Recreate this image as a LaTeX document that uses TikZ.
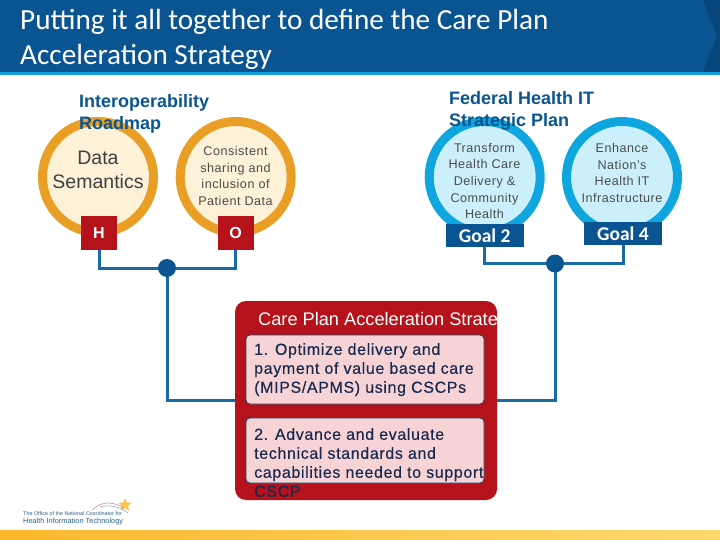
\documentclass[tikz,border=0pt]{standalone}
\usepackage{fontspec}
\usepackage{xcolor}
\setmainfont{Liberation Sans}
\newfontfamily\titlefont{Carlito}
\newfontfamily\spacedfont[LetterSpace=4]{Liberation Sans}
\newfontfamily\goalfont[LetterSpace=4,FakeBold=0.3]{Liberation Sans}
\usetikzlibrary{positioning,shapes.geometric,backgrounds}

\definecolor{hdrblue}{HTML}{0A5591}
\definecolor{hdrdark}{HTML}{07457A}
\definecolor{hdrcyan}{HTML}{14A0DC}
\definecolor{ringamber}{HTML}{E99F25}
\definecolor{fillcream}{HTML}{FDF1D8}
\definecolor{ringcyan}{HTML}{0FA6E0}
\definecolor{fillcyan}{HTML}{CBF0FC}
\definecolor{stratred}{HTML}{B5121B}
\definecolor{stratpink}{HTML}{F8D3D6}
\definecolor{linkblue}{HTML}{1A6BA5}
\definecolor{textnavy}{HTML}{17294F}
\definecolor{footleft}{HTML}{FBB72C}
\definecolor{footright}{HTML}{FFD96F}

\begin{document}
\begin{tikzpicture}[x=1pt, y=-1pt,
    ring/.style={circle, draw=#1, line width=9pt, minimum size=111pt, inner sep=0pt, align=center},
    ring/.default=ringamber,
    redtag/.style={fill=stratred, text=white, minimum width=36pt, minimum height=34pt, inner sep=0pt, font=\fontsize{16}{18}\selectfont\bfseries},
    goaltag/.style={fill=hdrblue, text=white, minimum width=78pt, minimum height=23pt, inner sep=0pt, font=\titlefont\fontsize{19.5}{22}\selectfont\bfseries},
    head/.style={anchor=north west, inner sep=0pt, align=left, text=hdrblue, font=\fontsize{18}{22}\selectfont\bfseries},
    circtext/.style={align=center, inner sep=0pt, text=black!70, font=\spacedfont\fontsize{12.6}{16.7}\selectfont},
    goalbox/.style={draw=linkblue!70!black, fill=stratpink, line width=0.8pt, rounded corners=4pt, minimum width=238pt, inner sep=0pt},
    goaltext/.style={anchor=north west, inner sep=0pt, align=left, text=textnavy, font=\goalfont\fontsize{16}{19}\selectfont},
    link/.style={draw=linkblue, line width=3pt},
    dot/.style={circle, fill=hdrblue, minimum size=18pt, inner sep=0pt},
]
\useasboundingbox (0,0) rectangle (720,540);

% --- Header and footer ---
\fill[hdrblue] (0,0) rectangle (720,72);
\fill[hdrdark] (703,0) -- (717,36) -- (703,72) -- (720,72) -- (720,0) -- cycle;
\fill[hdrcyan] (0,72) rectangle (720,75);
\shade[left color=footleft, right color=footright] (0,530) rectangle (720,540);
\node[anchor=north west, inner sep=0pt, text=white, font=\titlefont\fontsize{29.2}{35}\selectfont, align=left] (title) at (20,9) {Putting it all together to define the Care Plan\\Acceleration Strategy};

% --- Roadmap circles ---
\node[ring=ringamber, fill=fillcream] (semantics) at (98,177) {};
\node[ring=ringamber, fill=fillcream, right=17.7pt of semantics] (sharing) {};
\node[ring=ringcyan, fill=fillcyan, right=129pt of sharing] (delivery) {};
\node[ring=ringcyan, fill=fillcyan, right=17.3pt of delivery] (infra) {};

\node[align=center, inner sep=0pt, text=black!75, font=\fontsize{19.5}{24}\selectfont] (semantics_txt) at (98,170) {Data\\Semantics};
\node[circtext] (sharing_txt) at (235.5,176) {Consistent\\sharing and\\inclusion of\\Patient Data};
\node[circtext] (delivery_txt) at (484.5,181) {Transform\\Health Care\\Delivery \&\\Community\\Health};
\node[circtext] (infra_txt) at (622,173) {Enhance\\Nation’s\\Health IT\\Infrastructure};

% --- Tags under circles ---
\node[redtag, below=-21pt of semantics, xshift=1pt] (h_tag) {H};
\node[redtag, below=-21pt of sharing] (o_tag) {O};
\node[goaltag, below=-13pt of delivery] (goal_two) {Goal 2};
\node[goaltag, below=-15pt of infra, xshift=1pt] (goal_four) {Goal 4};

% --- Headings ---
\node[head] (interop_head) at (79,94) {Interoperability\\Roadmap};
\node[head] (fed_head) at (449,91) {Federal Health IT\\Strategic Plan};

% --- Strategy box ---
\node[fill=stratred, rounded corners=11pt, minimum width=262pt, minimum height=199pt, inner sep=0pt] (strategy) at (366,400.5) {};
\node[anchor=west, inner sep=0pt, text=white, font=\fontsize{18.2}{20}\selectfont] (strategy_txt) at (258,321) {Care Plan Acceleration Strategy};
\node[goalbox, minimum height=69pt] (opt_box) at (365,369.5) {};
\node[goalbox, minimum height=65pt] (adv_box) at (365,450.5) {};
\node[goaltext] (opt_txt) at (254,343) {1. Optimize delivery and\\payment of value based care\\(MIPS/APMS) using CSCPs};
\node[goaltext] (adv_txt) at (254,428) {2. Advance and evaluate\\technical standards and\\capabilities needed to support\\CSCP};

% --- Junction dots ---
\node[dot] (dot_left) at (167,268) {};
\node[dot] (dot_right) at (555,263.5) {};

% --- Connectors ---
\begin{scope}[on background layer]
\draw[link] (h_tag.south) |- (dot_left.center) -| (o_tag.south);
\draw[link] (goal_two.south) |- (dot_right.center) -| (goal_four.south);
\draw[link] (dot_left.center) |- (strategy.west);
\draw[link] (dot_right.center) |- (strategy.east);
\end{scope}

% --- Logo ---
\node[anchor=west, inner sep=0pt, text=hdrblue!70!gray, font=\fontsize{5.4}{6}\selectfont] (logo_top) at (23,513.5) {The Office of the National Coordinator for};
\node[anchor=west, inner sep=0pt, text=hdrblue!70!gray, font=\fontsize{7.4}{8}\selectfont] (logo_bot) at (23,522) {Health Information Technology};
\node[star, star points=5, star point ratio=2.2, fill=footleft!80, minimum size=14pt, inner sep=0pt] (logo_star) at (125,505) {};
\draw[stratred!50, line width=0.6pt] (92,510) .. controls (102,500) and (114,502) .. (124,508);
\draw[hdrblue!50, line width=0.6pt] (100,507) .. controls (110,504) and (120,507) .. (128,513);
\end{tikzpicture}
\end{document}
